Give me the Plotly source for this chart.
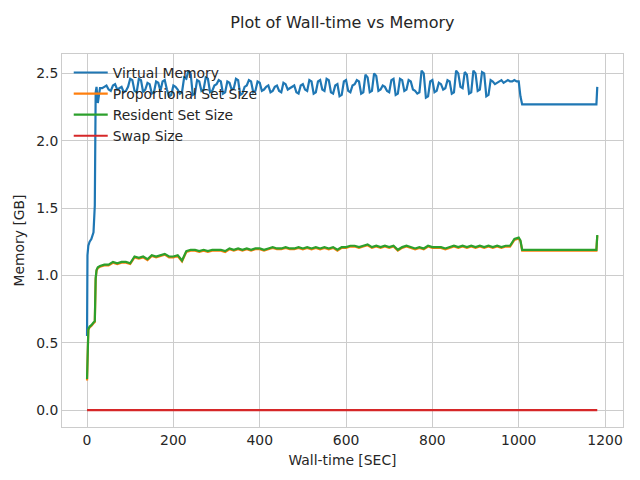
import plotly.graph_objects as go

# sample times in seconds for virtual memory
vm_time = [0, 1, 3, 6, 10, 15, 18, 20, 22, 25, 30,
           35, 40, 45, 50, 55, 60, 65, 70, 75, 80,
           85, 90, 95, 100, 105, 110, 115, 120, 125, 130,
           135, 140, 145, 150, 155, 160, 165, 170, 175, 180,
           185, 190, 195, 200, 205, 210, 215, 220, 225, 230,
           235, 240, 245, 250, 255, 260, 265, 270, 275, 280,
           285, 290, 295, 300, 305, 310, 315, 320, 325, 330,
           335, 340, 345, 350, 355, 360, 365, 370, 375, 380,
           385, 390, 395, 400, 405, 410, 415, 420, 425, 430,
           435, 440, 445, 450, 455, 460, 465, 470, 475, 480,
           485, 490, 495, 500, 505, 510, 515, 520, 525, 530,
           535, 540, 545, 550, 555, 560, 565, 570, 575, 580,
           585, 590, 595, 600, 605, 610, 615, 620, 625, 630,
           635, 640, 645, 650, 655, 660, 665, 670, 675, 680,
           685, 690, 695, 700, 705, 710, 715, 720, 725, 730,
           735, 740, 745, 750, 755, 760, 765, 770, 775, 780,
           785, 790, 795, 800, 805, 810, 815, 820, 825, 830,
           835, 840, 845, 850, 855, 860, 865, 870, 875, 880,
           885, 890, 895, 900, 905, 910, 915, 920, 925, 930,
           935, 940, 945, 950, 955, 960, 965, 970, 975, 980,
           985, 990, 995, 1000,
           1004, 1008, 1180, 1182]

# virtual memory in GB
virtual_mem = [0.55, 1.15, 1.22, 1.25, 1.27, 1.32, 1.52, 2.36, 2.40, 2.28, 2.39,
               2.39, 2.40, 2.41, 2.38, 2.37, 2.41, 2.42, 2.38, 2.39, 2.40,
               2.36, 2.37, 2.40, 2.46, 2.45, 2.37, 2.36, 2.46, 2.45, 2.36,
               2.38, 2.43, 2.42, 2.35, 2.36, 2.44, 2.43, 2.37, 2.44, 2.45,
               2.38, 2.33, 2.34, 2.41, 2.40, 2.38, 2.35, 2.36, 2.47, 2.46,
               2.52, 2.50, 2.34, 2.35, 2.45, 2.44, 2.37, 2.38, 2.47, 2.46,
               2.36, 2.37, 2.41, 2.42, 2.45, 2.44, 2.35, 2.36, 2.44, 2.43,
               2.38, 2.39, 2.46, 2.45, 2.34, 2.35, 2.40, 2.41, 2.45, 2.44,
               2.36, 2.37, 2.44, 2.43, 2.37, 2.38, 2.40, 2.41, 2.36, 2.37,
               2.40, 2.41, 2.37, 2.36, 2.43, 2.42, 2.38, 2.39, 2.40, 2.41,
               2.36, 2.35, 2.41, 2.42, 2.38, 2.37, 2.45, 2.44, 2.35, 2.36,
               2.44, 2.45, 2.38, 2.37, 2.46, 2.45, 2.36, 2.35, 2.41, 2.42,
               2.33, 2.34, 2.44, 2.45, 2.37, 2.36, 2.41, 2.42, 2.45, 2.44,
               2.35, 2.36, 2.49, 2.47, 2.36, 2.37, 2.50, 2.48, 2.37, 2.38,
               2.41, 2.40, 2.37, 2.36, 2.45, 2.46, 2.34, 2.35, 2.46, 2.45,
               2.37, 2.38, 2.45, 2.44, 2.38, 2.37, 2.35, 2.36, 2.52, 2.50,
               2.32, 2.33, 2.44, 2.45, 2.36, 2.37, 2.43, 2.42, 2.38, 2.39,
               2.45, 2.44, 2.35, 2.36, 2.52, 2.50, 2.40, 2.39, 2.51, 2.49,
               2.35, 2.36, 2.52, 2.50, 2.37, 2.38, 2.51, 2.50, 2.33, 2.34,
               2.45, 2.44, 2.42, 2.43, 2.44, 2.45, 2.43, 2.44, 2.45, 2.44,
               2.44, 2.45, 2.44, 2.44,
               2.33, 2.27, 2.27, 2.40]

# sample times in seconds for set sizes
set_time = [0, 1, 3, 6, 10, 15, 18, 20, 22, 25, 30,
            40, 50, 60, 70, 80, 90, 100, 110, 120, 130, 140, 150, 160, 170, 180, 190, 200, 210, 220, 230,
            240, 250, 260, 270, 280, 290, 300, 310, 320, 330,
            340, 350, 360, 370, 380, 390, 400, 410, 420, 430,
            440, 450, 460, 470, 480, 490, 500, 510, 520, 530,
            540, 550, 560, 570, 580, 590, 600, 610, 620, 630,
            640, 650, 660, 670, 680, 690, 700, 710, 720, 730,
            740, 750, 760, 770, 780, 790, 800, 810, 820, 830,
            840, 850, 860, 870, 880, 890, 900, 910, 920, 930,
            940, 950, 960, 970, 980, 990, 1000,
            1004, 1008, 1180, 1182]

prop_set = [0.22, 0.51, 0.594, 0.614, 0.624, 0.644, 0.654, 0.97, 1.034, 1.054, 1.064,
            1.074, 1.074, 1.094, 1.084, 1.094, 1.094, 1.084, 1.134, 1.124, 1.134, 1.114, 1.144, 1.134, 1.144, 1.154, 1.134, 1.134, 1.144, 1.104, 1.174,
            1.184, 1.184, 1.174, 1.184, 1.174, 1.184, 1.184, 1.184, 1.174, 1.194,
            1.184, 1.194, 1.184, 1.194, 1.184, 1.194, 1.194, 1.184, 1.194, 1.204,
            1.194, 1.194, 1.204, 1.194, 1.194, 1.204, 1.194, 1.204, 1.194, 1.204,
            1.194, 1.204, 1.194, 1.204, 1.184, 1.204, 1.204, 1.214, 1.214, 1.204,
            1.214, 1.224, 1.204, 1.214, 1.204, 1.214, 1.204, 1.214, 1.184, 1.204,
            1.214, 1.204, 1.194, 1.204, 1.194, 1.214, 1.204, 1.204, 1.204, 1.194,
            1.204, 1.214, 1.204, 1.214, 1.204, 1.214, 1.204, 1.214, 1.204, 1.214,
            1.204, 1.214, 1.204, 1.214, 1.214, 1.264, 1.274,
            1.254, 1.184, 1.184, 1.294]

resident_set = [0.23, 0.52, 0.60, 0.62, 0.63, 0.65, 0.66, 0.98, 1.04, 1.06, 1.07,
                1.08, 1.08, 1.10, 1.09, 1.10, 1.10, 1.09, 1.14, 1.13, 1.14, 1.12, 1.15, 1.14, 1.15, 1.16, 1.14, 1.14, 1.15, 1.11, 1.18,
                1.19, 1.19, 1.18, 1.19, 1.18, 1.19, 1.19, 1.19, 1.18, 1.20,
                1.19, 1.20, 1.19, 1.20, 1.19, 1.20, 1.20, 1.19, 1.20, 1.21,
                1.20, 1.20, 1.21, 1.20, 1.20, 1.21, 1.20, 1.21, 1.20, 1.21,
                1.20, 1.21, 1.20, 1.21, 1.19, 1.21, 1.21, 1.22, 1.22, 1.21,
                1.22, 1.23, 1.21, 1.22, 1.21, 1.22, 1.21, 1.22, 1.19, 1.21,
                1.22, 1.21, 1.20, 1.21, 1.20, 1.22, 1.21, 1.21, 1.21, 1.20,
                1.21, 1.22, 1.21, 1.22, 1.21, 1.22, 1.21, 1.22, 1.21, 1.22,
                1.21, 1.22, 1.21, 1.22, 1.22, 1.27, 1.28,
                1.26, 1.19, 1.19, 1.30]

swap_time = [0, 1182]
swap_size = [0.0, 0.0]

text_col = "#262626"
grid_col = "#cccccc"

fig = go.Figure()
fig.add_trace(go.Scatter(x=vm_time, y=virtual_mem, mode="lines", name="Virtual Memory",
                         legendgroup="a", line=dict(color="#1f77b4", width=2.2)))
fig.add_trace(go.Scatter(x=set_time, y=prop_set, mode="lines", name="Proportional Set Size",
                         legendgroup="b", line=dict(color="#ff7f0e", width=2.2)))
fig.add_trace(go.Scatter(x=set_time, y=resident_set, mode="lines", name="Resident Set Size",
                         legendgroup="c", line=dict(color="#2ca02c", width=2.2)))
fig.add_trace(go.Scatter(x=swap_time, y=swap_size, mode="lines", name="Swap Size",
                         legendgroup="d", line=dict(color="#d62728", width=2.2)))

fig.update_layout(
    width=640, height=480,
    margin=dict(l=62, r=17, t=54, b=53),
    paper_bgcolor="white", plot_bgcolor="white",
    font=dict(family="DejaVu Sans", size=13.9, color=text_col),
    title=dict(text="Plot of Wall-time vs Memory", x=0.535, xanchor="center",
               yref="container", y=0.954, yanchor="middle", automargin=False,
               font=dict(size=16, color=text_col)),
    legend=dict(x=0.012, y=0.992, xanchor="left", yanchor="top",
                bgcolor="rgba(0,0,0,0)", tracegroupgap=0, itemwidth=34,
                font=dict(size=13.9, color=text_col)),
)
fig.update_xaxes(range=[-58, 1241.6], tickvals=[0, 200, 400, 600, 800, 1000, 1200],
                 showline=True, mirror=True, linecolor=grid_col, linewidth=1,
                 gridcolor=grid_col, zeroline=False, ticks="", automargin=False,
                 title=dict(text="Wall-time [SEC]", standoff=8, font=dict(size=13.9)))
fig.update_yaxes(range=[-0.126, 2.644], tickvals=[0, 0.5, 1.0, 1.5, 2.0, 2.5],
                 tickformat=".1f",
                 showline=True, mirror=True, linecolor=grid_col, linewidth=1,
                 gridcolor=grid_col, zeroline=False, ticks="", automargin=False,
                 title=dict(text="Memory [GB]", standoff=8, font=dict(size=13.9)))

fig.write_html("out.html", config={"displayModeBar": False},
               post_script="document.body.style.margin='0px';")
